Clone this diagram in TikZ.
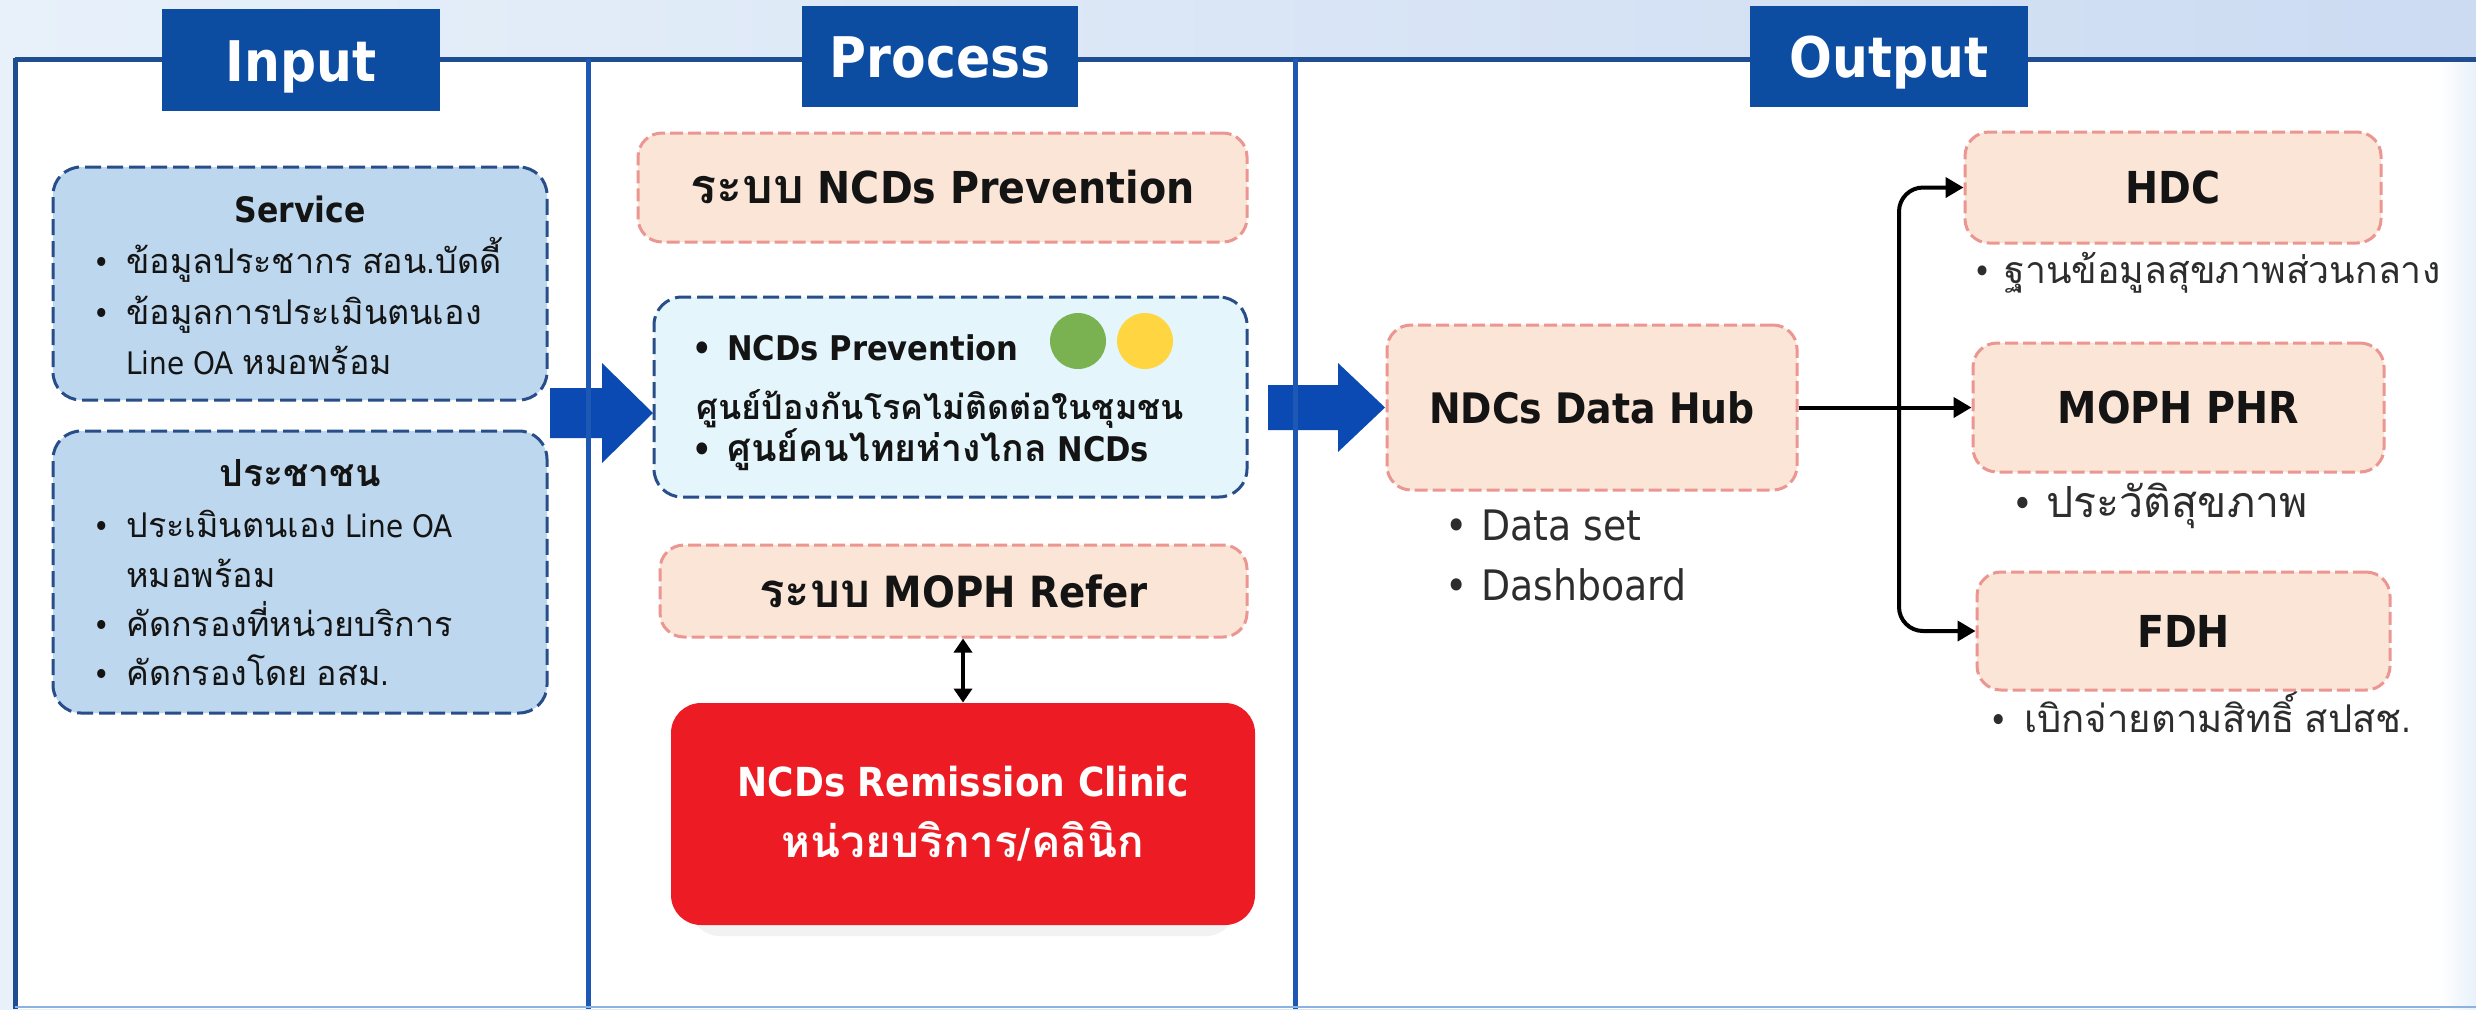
\documentclass[tikz,border=0pt]{standalone}
\usepackage{fontspec}
\setmainfont{DejaVu Sans}[FakeStretch=0.9]
\newfontfamily\thaifont{Loma}[Script=Thai, Scale=1.1]
\usetikzlibrary{arrows.meta}
\XeTeXinterchartokenstate=1
\newXeTeXintercharclass\ThaiCls
\newcount\thc
\thc="0E00
\loop
  \XeTeXcharclass\thc=\ThaiCls
  \advance\thc by 1
\ifnum\thc<"0E80 \repeat
\XeTeXinterchartoks 0 \ThaiCls = {\thaifont}
\XeTeXinterchartoks 4095 \ThaiCls = {\thaifont}
\XeTeXinterchartoks \ThaiCls 0 = {\rmfamily}
\XeTeXinterchartoks \ThaiCls 4095 = {\rmfamily}
\newcommand\fz[1]{\fontsize{#1}{#1}\selectfont}
\newcommand\bulw[1]{\makebox[#1][l]{\hspace{-2pt}•}}
\definecolor{tabblue}{RGB}{12,77,162}
\definecolor{frameblue}{RGB}{30,78,145}
\definecolor{divblue}{RGB}{28,88,180}
\definecolor{arrowblue}{RGB}{10,74,178}
\definecolor{inblue}{RGB}{189,215,238}
\definecolor{inborder}{RGB}{40,78,138}
\definecolor{peach}{RGB}{251,229,214}
\definecolor{peachborder}{RGB}{236,150,146}
\definecolor{cyanfill}{RGB}{228,246,252}
\definecolor{redfill}{RGB}{237,28,36}
\definecolor{bgleft}{RGB}{232,241,250}
\definecolor{bgright}{RGB}{204,219,242}
\definecolor{textdark}{RGB}{20,20,20}
\definecolor{subtext}{RGB}{45,45,45}
\definecolor{greendot}{RGB}{122,178,82}
\definecolor{yellowdot}{RGB}{255,214,66}
\definecolor{botline}{RGB}{140,178,226}
\tikzset{
  tab/.style={fill=tabblue, text=white, font=\bfseries\fz{28}, inner sep=0pt, text height=24pt, text depth=3pt},
  inbox/.style={draw=inborder, fill=inblue, line width=1.5pt, dash pattern=on 8pt off 3pt, rounded corners=14pt},
  pbox/.style={draw=peachborder, fill=peach, line width=1.5pt, dash pattern=on 6.5pt off 2.5pt, rounded corners=12pt, text=textdark, inner sep=0pt},
  cbox/.style={draw=inborder, fill=cyanfill, line width=1.5pt, dash pattern=on 8pt off 3pt, rounded corners=14pt},
  redbox/.style={fill=redfill, rounded corners=15pt, text=white, align=center, inner sep=0pt},
  txt/.style={inner sep=0pt, anchor=base west, text=textdark},
  subtxt/.style={inner sep=0pt, anchor=base west, text=subtext},
  dot/.style={circle, inner sep=0pt, minimum size=28pt},
  conn/.style={draw=black, line width=2pt, -{Triangle[length=9pt,width=10pt]}},
  dbl/.style={draw=black, line width=2pt, {Triangle[length=7pt,width=9pt]}-{Triangle[length=7pt,width=9pt]}},
}
\begin{document}
\begin{tikzpicture}[x=0.5pt, y=-0.5pt]
\useasboundingbox (0,0) rectangle (2476,1009);
% background
\fill[left color=bgleft, right color=bgright] (0,0) rectangle (2476,1009);
\fill[white] (15,59) rectangle (2476,1009);
\fill[left color=white, right color=bgleft] (2440,62) rectangle (2476,1009);
% big block arrows
\fill[arrowblue] (550,388) -- (602,388) -- (602,363) -- (653,413) -- (602,463) -- (602,438) -- (550,438) -- cycle;
\fill[arrowblue] (1268,385) -- (1338,385) -- (1338,363) -- (1385,407.5) -- (1338,452) -- (1338,430) -- (1268,430) -- cycle;
% frame
\draw[frameblue, line width=2.5pt] (15,59) -- (2476,59);
\draw[frameblue, line width=2.5pt] (15,58) -- (15,1009);
\draw[divblue, line width=2.5pt] (588,59) -- (588,1009);
\draw[divblue, line width=2.5pt] (1295,59) -- (1295,1009);
\draw[botline, line width=1.2pt] (15,1007) -- (2476,1007);
% tabs
\node[tab, minimum width=139pt, minimum height=51pt] (tin) at (301,60) {Input};
\node[tab, minimum width=138pt, minimum height=50.5pt] (tpr) at (940,56.5) {Process};
\node[tab, minimum width=139pt, minimum height=50.5pt] (tout) at (1889,56.5) {Output};
% input column
\node[inbox, minimum width=247pt, minimum height=116.5pt] (svc) at (300,283.5) {};
\node[inbox, minimum width=247pt, minimum height=141pt] (ppl) at (300,572) {};
\node[txt, anchor=base, font=\bfseries\fz{17.5}] (svct) at (300,222) {Service};
\node[txt, font=\fz{15.5}] (s1) at (97,273) {\bulw{14.5pt}ข้อมูลประชากร สอน.บัดดี้};
\node[txt, font=\fz{15.5}] (s2) at (97,324) {\bulw{14.5pt}ข้อมูลการประเมินตนเอง};
\node[txt, font=\fz{15.5}] (s3) at (126,374) {Line OA หมอพร้อม};
\node[txt, anchor=base, font=\bfseries\fz{17}] (pplt) at (300,486) {ประชาชน};
\node[txt, font=\fz{15.5}] (p1) at (97,537) {\bulw{14.5pt}ประเมินตนเอง Line OA};
\node[txt, font=\fz{15.5}] (p2) at (126,587) {หมอพร้อม};
\node[txt, font=\fz{15.5}] (p3) at (97,636) {\bulw{14.5pt}คัดกรองที่หน่วยบริการ};
\node[txt, font=\fz{15.5}] (p4) at (97,685) {\bulw{14.5pt}คัดกรองโดย อสม.};
% process column
\node[pbox, minimum width=304.5pt, minimum height=54.5pt, font=\bfseries\fz{22}] (psys) at (942.5,187.5) {ระบบ NCDs Prevention};
\node[cbox, minimum width=296.5pt, minimum height=100pt] (cyan) at (950.5,397) {};
\node[txt, font=\bfseries\fz{17}] (c1) at (696,360) {\bulw{15.5pt}NCDs Prevention};
\node[dot, fill=greendot] (gdot) at (1078,341) {};
\node[dot, fill=yellowdot] (ydot) at (1145,341) {};
\node[txt, font=\bfseries\fz{15.5}] (c2) at (696,419) {ศูนย์ป้องกันโรคไม่ติดต่อในชุมชน};
\node[txt, font=\bfseries\fz{17}] (c3) at (696,461) {\bulw{15.5pt}ศูนย์คนไทยห่างไกล NCDs};
\node[pbox, minimum width=293.5pt, minimum height=46pt, font=\bfseries\fz{21.5}] (refer) at (953.5,591) {ระบบ MOPH Refer};
\fill[black!5, rounded corners=15pt] (690,720) rectangle (1236,936);
\node[redbox, minimum width=292pt, minimum height=111pt, font=\bfseries\fontsize{20}{30.5}\selectfont] (red) at (963,814) {NCDs Remission Clinic\\หน่วยบริการ/คลินิก};
\draw[dbl] (refer.south -| red.north) -- (red.north);
% output column
\node[pbox, minimum width=205pt, minimum height=82.5pt, font=\bfseries\fz{21}] (hub) at (1592,407.5) {NDCs Data Hub};
\node[subtxt, font=\fz{21}] (h1) at (1449,540) {\bulw{16pt}Data set};
\node[subtxt, font=\fz{21}] (h2) at (1449,600) {\bulw{16pt}Dashboard};
\node[pbox, minimum width=208pt, minimum height=55.5pt, font=\bfseries\fz{22}] (hdc) at (2173,187.5) {HDC};
\node[pbox, minimum width=205.5pt, minimum height=64.5pt, font=\bfseries\fz{22}] (phr) at (2178.5,407.5) {MOPH PHR};
\node[pbox, minimum width=206.5pt, minimum height=59pt, font=\bfseries\fz{22}] (fdh) at (2183.5,631) {FDH};
\node[subtxt, font=\fz{17}] (hd1) at (1977,283) {\bulw{13.5pt}ฐานข้อมูลสุขภาพส่วนกลาง};
\node[subtxt, font=\fz{19.5}] (ph1) at (2016,517) {\bulw{15pt}ประวัติสุขภาพ};
\node[subtxt, font=\fz{17.4}] (fd1) at (1993,732) {\bulw{15.5pt}เบิกจ่ายตามสิทธิ์ สปสช.};
\coordinate (split) at (1899,407.5);
\draw[conn] (hub.east) -- (phr.west);
\draw[conn, rounded corners=12pt] (split) |- (hdc.west);
\draw[conn, rounded corners=12pt] (split) |- (fdh.west);
\end{tikzpicture}
\end{document}
